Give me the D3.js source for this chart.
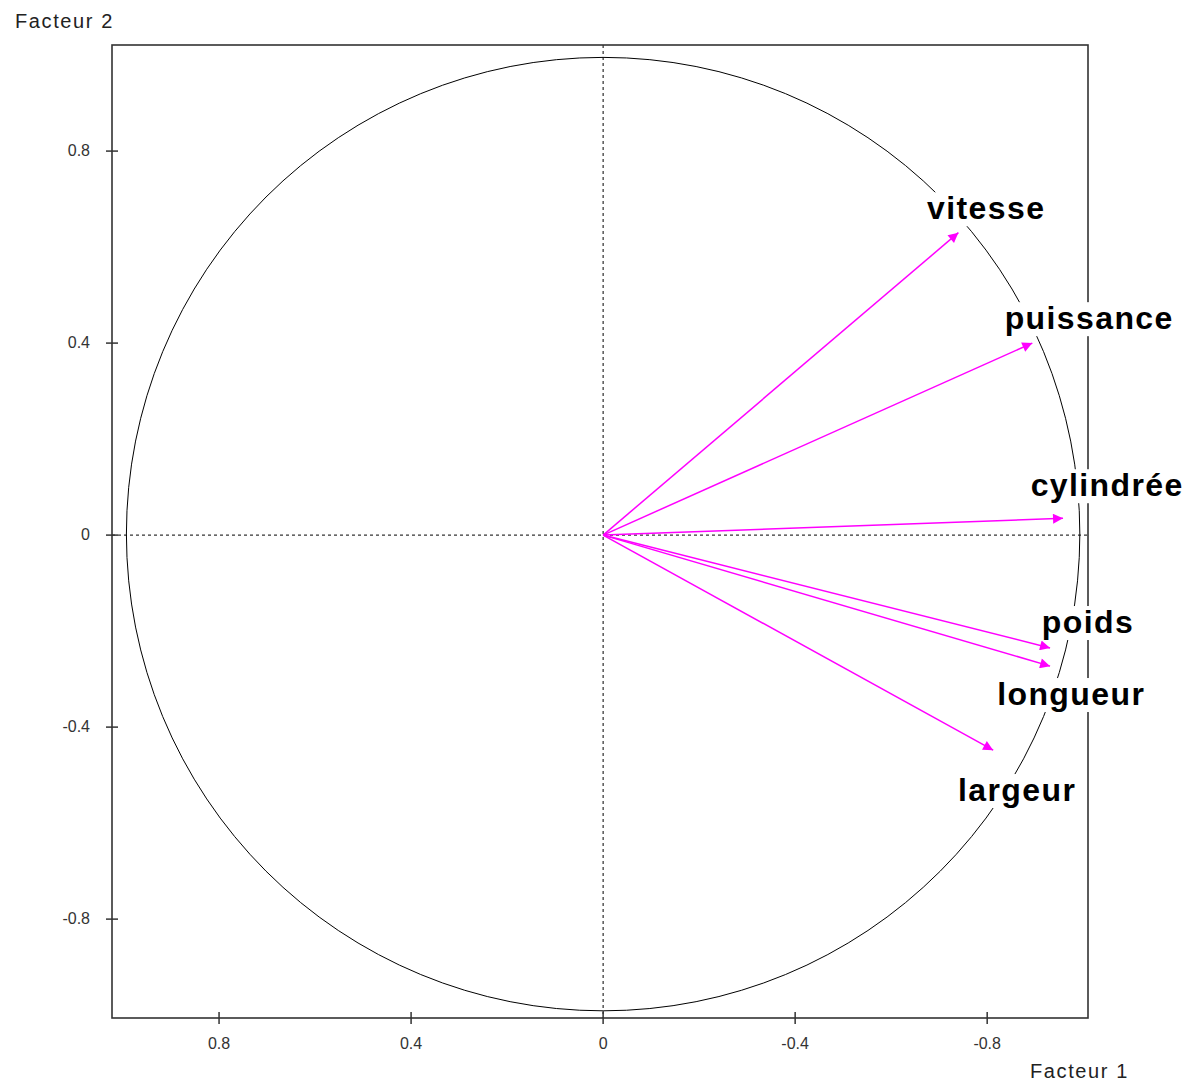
<!DOCTYPE html>
<html>
<head>
<meta charset="utf-8">
<script src="https://cdn.jsdelivr.net/npm/d3@7"></script>
<style>
  body { margin: 0; background: #fff; }
  text { font-family: "Liberation Sans", Arial, sans-serif; }
</style>
</head>
<body>
<svg id="chart"></svg>
<script>
// variables and their coordinates on the two factors
const variables = ['vitesse', 'puissance', 'cylindrée', 'poids', 'longueur', 'largeur'];
const factor1 = [-0.74, -0.894, -0.958, -0.931, -0.931, -0.8125];
const factor2 = [0.63, 0.40, 0.035, -0.235, -0.273, -0.448];
// where the labels sit (data units, baseline centre)
const labelF1 = [-0.798, -1.0125, -1.05, -1.01, -0.975, -0.8625];
const labelF2 = [0.658, 0.429, 0.081, -0.204, -0.354, -0.554];
const tickValues = [0.8, 0.4, 0, -0.4, -0.8];

const W = 1189, H = 1082;
const margin = { top: 45, right: 101, bottom: 64, left: 112 };
const width = W - margin.left - margin.right;
const height = H - margin.top - margin.bottom;

const svg = d3.select('#chart').attr('width', W).attr('height', H);

// x axis is reversed: positive on the left
const x = d3.scaleLinear().domain([1.023, -1.01]).range([0, width]);
const y = d3.scaleLinear().domain([-1.006, 1.021]).range([height, 0]);

const g = svg.append('g').attr('transform', `translate(${margin.left},${margin.top})`);

// dashed axes through the origin
g.append('line')
  .attr('x1', x(0)).attr('x2', x(0)).attr('y1', 0).attr('y2', height)
  .attr('stroke', '#000').attr('stroke-dasharray', '3,3');
g.append('line')
  .attr('x1', 0).attr('x2', width).attr('y1', y(0)).attr('y2', y(0))
  .attr('stroke', '#000').attr('stroke-dasharray', '3,3');

// correlation circle
g.append('circle')
  .attr('cx', x(0)).attr('cy', y(0) - 1)
  .attr('r', x(0) - x(0.993))
  .attr('fill', 'none').attr('stroke', '#000').attr('stroke-width', 1);

// arrow head
svg.append('defs').append('marker')
  .attr('id', 'head')
  .attr('viewBox', '0 0 10 10')
  .attr('refX', 10).attr('refY', 5)
  .attr('markerWidth', 13).attr('markerHeight', 10)
  .attr('markerUnits', 'userSpaceOnUse')
  .attr('orient', 'auto')
  .append('path').attr('d', 'M0,0L10,5L0,10Z').attr('fill', '#ff00ff');

variables.forEach((v, i) => {
  g.append('line')
    .attr('x1', x(0)).attr('y1', y(0))
    .attr('x2', x(factor1[i])).attr('y2', y(factor2[i]))
    .attr('stroke', '#ff00ff').attr('stroke-width', 1.5)
    .attr('marker-end', 'url(#head)');
});

// frame
g.append('rect')
  .attr('width', width).attr('height', height)
  .attr('fill', 'none').attr('stroke', '#333').attr('stroke-width', 1.6);

// ticks crossing the frame
const yAxis = g.append('g');
tickValues.forEach(t => {
  yAxis.append('line').attr('x1', -6).attr('x2', 6).attr('y1', y(t)).attr('y2', y(t))
    .attr('stroke', '#333').attr('stroke-width', 1.5);
  yAxis.append('text').attr('x', -22).attr('y', y(t) + 5)
    .attr('text-anchor', 'end').attr('font-size', 16).attr('fill', '#333')
    .text(t);
});
const xAxis = g.append('g').attr('transform', `translate(0,${height})`);
tickValues.forEach(t => {
  xAxis.append('line').attr('x1', x(t)).attr('x2', x(t)).attr('y1', -6).attr('y2', 6)
    .attr('stroke', '#333').attr('stroke-width', 1.5);
  xAxis.append('text').attr('x', x(t)).attr('y', 31)
    .attr('text-anchor', 'middle').attr('font-size', 16).attr('fill', '#333')
    .text(t);
});

// variable labels on white boxes
variables.forEach((v, i) => {
  const lg = g.append('g');
  const rect = lg.append('rect').attr('fill', '#fff');
  const txt = lg.append('text')
    .attr('x', x(labelF1[i])).attr('y', y(labelF2[i]))
    .attr('text-anchor', 'middle')
    .attr('font-size', 32).attr('font-weight', 'bold')
    .attr('letter-spacing', 1.4)
    .attr('fill', '#000')
    .text(v);
  const b = txt.node().getBBox();
  rect.attr('x', b.x - 3).attr('y', b.y + 2).attr('width', b.width + 6).attr('height', b.height - 2);
});

// axis titles
svg.append('text').attr('x', 15).attr('y', 28)
  .attr('font-size', 20).attr('letter-spacing', 1.6).attr('fill', '#222').text('Facteur 2');
svg.append('text').attr('x', 1030).attr('y', 1078)
  .attr('font-size', 20).attr('letter-spacing', 1.6).attr('fill', '#222').text('Facteur 1');
</script>
</body>
</html>
